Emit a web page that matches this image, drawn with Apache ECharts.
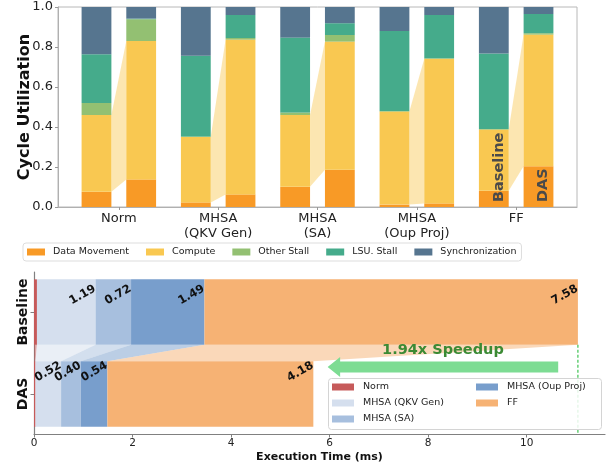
<!DOCTYPE html>
<html><head><meta charset="utf-8">
<script src="https://cdn.jsdelivr.net/npm/echarts@6/dist/echarts.min.js"></script>
<style>html,body{margin:0;padding:0;background:#fff}#c{width:616px;height:468px}</style>
</head><body><div id="c"></div>
<script>
// ---------- data ----------
const categories = ['Norm', 'MHSA\n(QKV Gen)', 'MHSA\n(SA)', 'MHSA\n(Oup Proj)', 'FF'];
const components = ['Data Movement', 'Compute', 'Other Stall', 'LSU. Stall', 'Synchronization'];
const yTicks = [0, 0.2, 0.4, 0.6, 0.8, 1.0];

const baselineDataMovement = [0.076, 0.023, 0.101, 0.012, 0.081];
const baselineCompute      = [0.384, 0.327, 0.359, 0.465, 0.306];
const baselineOtherStall   = [0.060, 0.003, 0.013, 0.003, 0.003];
const baselineLsuStall     = [0.244, 0.403, 0.374, 0.400, 0.377];
const baselineSync         = [0.236, 0.244, 0.153, 0.120, 0.233];

const dasDataMovement = [0.138, 0.063, 0.186, 0.018, 0.204];
const dasCompute      = [0.692, 0.774, 0.641, 0.723, 0.658];
const dasOtherStall   = [0.109, 0.008, 0.033, 0.003, 0.007];
const dasLsuStall     = [0.003, 0.115, 0.059, 0.216, 0.096];
const dasSync         = [0.058, 0.040, 0.081, 0.040, 0.035];

const stages = ['Norm', 'MHSA (QKV Gen)', 'MHSA (SA)', 'MHSA (Oup Proj)', 'FF'];
const rows = ['DAS', 'Baseline'];
const baselineTime = [0.06, 1.19, 0.72, 1.49, 7.58];
const dasTime      = [0.03, 0.52, 0.40, 0.54, 4.18];
const timeTicks = [0, 2, 4, 6, 8, 10];
const speedupText = '1.94x Speedup';

// ---------- style ----------
const FONT = 'DejaVu Sans';
const compColors = ['#f89a26', '#f9c851', '#93c072', '#45ab8b', '#56758f'];
const stageColors = ['#c65a5a', '#d5dfee', '#a7bfde', '#789ecc', '#f6b274'];
const OFF = 0.225, HALF = 0.15;

const baseParts = [baselineDataMovement, baselineCompute, baselineOtherStall, baselineLsuStall, baselineSync];
const dasParts = [dasDataMovement, dasCompute, dasOtherStall, dasLsuStall, dasSync];

function hexA(hex, a) {
  const n = parseInt(hex.slice(1), 16);
  return 'rgba(' + (n >> 16 & 255) + ',' + (n >> 8 & 255) + ',' + (n & 255) + ',' + a + ')';
}

// stacked top bars
const topSeries = components.map((name, k) => {
  const data = [];
  categories.forEach((c, i) => {
    [[baseParts, -OFF], [dasParts, OFF]].forEach(([parts, off]) => {
      let b = 0;
      for (let j = 0; j < k; j++) b += parts[j][i];
      data.push([i + off, b, b + parts[k][i]]);
    });
  });
  return {
    type: 'custom', name, xAxisIndex: 0, yAxisIndex: 0, z: 3,
    itemStyle: { color: compColors[k] },
    encode: { x: 0, y: [1, 2] },
    data,
    renderItem: (params, api) => {
      const x = api.value(0);
      const p0 = api.coord([x - HALF, api.value(2)]);
      const p1 = api.coord([x + HALF, api.value(1)]);
      return { type: 'rect', shape: { x: p0[0], y: p0[1], width: p1[0] - p0[0], height: p1[1] - p0[1] },
        style: { fill: compColors[k] } };
    }
  };
});

// compute links between baseline and DAS bars
const linkTop = {
  type: 'custom', xAxisIndex: 0, yAxisIndex: 0, z: 2, silent: true,
  encode: { x: 0, y: [1, 2] },
  data: categories.map((c, i) => [i, baselineDataMovement[i], baselineDataMovement[i] + baselineCompute[i],
    dasDataMovement[i], dasDataMovement[i] + dasCompute[i]]),
  renderItem: (params, api) => {
    const i = api.value(0);
    const pts = [
      api.coord([i - OFF + HALF, api.value(1)]), api.coord([i - OFF + HALF, api.value(2)]),
      api.coord([i + OFF - HALF, api.value(4)]), api.coord([i + OFF - HALF, api.value(3)])
    ];
    return { type: 'polygon', shape: { points: pts }, style: { fill: hexA(compColors[1], 0.45) } };
  }
};

const tagTexts = ['Baseline', 'DAS'];
const topTags = {
  type: 'custom', xAxisIndex: 0, yAxisIndex: 0, z: 5, silent: true,
  encode: { x: 0, y: 1 },
  data: [[4 - OFF, 0, 0], [4 + OFF, 0, 1]],
  renderItem: (params, api) => {
    const p = api.coord([api.value(0), api.value(1)]);
    return { type: 'text', x: p[0] + 5, y: p[1] - 5, rotation: Math.PI / 2,
      style: { text: tagTexts[api.value(2)], fontFamily: FONT, fontSize: 14.5, fontWeight: 'bold', fill: '#4a4a4a',
        align: 'left', verticalAlign: 'middle' } };
  }
};

// bottom bars
function cum(arr) { const out = []; let s = 0; arr.forEach(v => { out.push([s, s + v]); s += v; }); return out; }
const bCum = cum(baselineTime), dCum = cum(dasTime);
const baseTotal = bCum[bCum.length - 1][1], dasTotal = dCum[dCum.length - 1][1];

const bottomSeries = stages.map((name, k) => ({
  type: 'custom', name, xAxisIndex: 1, yAxisIndex: 1, z: 3,
  itemStyle: { color: stageColors[k] },
  encode: { x: [0, 1], y: 2 },
  data: [[bCum[k][0], bCum[k][1], 1], [dCum[k][0], dCum[k][1], 0]],
  renderItem: (params, api) => {
    const y = api.value(2);
    const p0 = api.coord([api.value(0), y + 0.4]);
    const p1 = api.coord([api.value(1), y - 0.4]);
    return { type: 'rect', shape: { x: p0[0], y: p0[1], width: p1[0] - p0[0], height: p1[1] - p0[1] },
      style: { fill: stageColors[k] } };
  }
}));

const linkBottom = {
  type: 'custom', xAxisIndex: 1, yAxisIndex: 1, z: 2, silent: true,
  encode: { x: [0, 1] },
  data: stages.map((s, k) => [bCum[k][0], bCum[k][1], dCum[k][0], dCum[k][1], k]),
  renderItem: (params, api) => {
    const k = api.value(4);
    const pts = [api.coord([api.value(0), 0.6]), api.coord([api.value(1), 0.6]),
      api.coord([api.value(3), 0.4]), api.coord([api.value(2), 0.4])];
    return { type: 'polygon', shape: { points: pts }, style: { fill: hexA(stageColors[k], 0.5) } };
  }
};

const valueLabelData = [];
for (let k = 1; k < stages.length; k++) {
  valueLabelData.push([bCum[k][1], 1, k]);
  valueLabelData.push([dCum[k][1], 0, k]);
}
const valueLabels = {
  type: 'custom', xAxisIndex: 1, yAxisIndex: 1, z: 6, silent: true,
  encode: { x: 0, y: 1 },
  data: valueLabelData,
  renderItem: (params, api) => {
    const row = api.value(1), k = api.value(2);
    const txt = (row ? baselineTime[k] : dasTime[k]).toFixed(2);
    const p = api.coord([api.value(0), row + (row ? 0.21 : 0.27)]);
    return { type: 'text', x: p[0] - 13, y: p[1], rotation: Math.PI / 6,
      style: { text: txt, fontFamily: FONT, fontSize: 11.5, fontWeight: 'bold', fill: '#111',
        align: 'center', verticalAlign: 'middle' } };
  }
};

const annotation = {
  type: 'custom', xAxisIndex: 1, yAxisIndex: 1, z: 7, silent: true,
  encode: { x: [0, 1] },
  data: [[dasTotal + 0.29, baseTotal - 0.4, 0.33]],
  renderItem: (params, api) => {
    const tip = api.coord([api.value(0), api.value(2)]);
    const tail = api.coord([api.value(1), api.value(2)]);
    const cy = tip[1], tx = tip[0], hx = tip[0] + 12.5;
    const top = api.coord([baseTotal, 0.6]);
    const bot = api.coord([baseTotal, -0.49]);
    const mid = api.coord([(api.value(0) + api.value(1)) / 2, 0.535]);
    return { type: 'group', children: [
      { type: 'line', shape: { x1: top[0], y1: top[1], x2: bot[0], y2: bot[1] },
        style: { stroke: '#3fc252', lineWidth: 1.2, lineDash: [3, 2] } },
      { type: 'polygon', shape: { points: [[tx, cy], [hx, cy - 10], [hx, cy - 5.5], [tail[0], cy - 5.5],
        [tail[0], cy + 5.5], [hx, cy + 5.5], [hx, cy + 10]] }, style: { fill: '#7ddc93' } },
      { type: 'text', x: mid[0], y: mid[1], style: { text: speedupText, fontFamily: FONT, fontSize: 14.5,
        fontWeight: 'bold', fill: '#3b8a34', align: 'center', verticalAlign: 'middle' } }
    ] };
  }
};

const chart = echarts.init(document.getElementById('c'));
chart.setOption({
  animation: false,
  textStyle: { fontFamily: FONT },
  grid: [
    { left: 58, top: 7, width: 519, height: 200, show: true, borderColor: '#b8b8b8', borderWidth: 1 },
    { left: 34, top: 272, width: 571, height: 162 }
  ],
  xAxis: [
    { gridIndex: 0, type: 'value', min: -0.6125, max: 4.6125, splitLine: { show: false },
      axisLine: { show: true, onZero: false, lineStyle: { color: '#b0b0b0' } },
      axisTick: { show: true, customValues: [0, 1, 2, 3, 4], length: 3, lineStyle: { color: '#999' } },
      axisLabel: { customValues: [0, 1, 2, 3, 4], formatter: v => categories[Math.round(v)],
        fontSize: 13, color: '#222', lineHeight: 15, margin: 4 } },
    { gridIndex: 1, type: 'value', min: 0, max: 11.59, splitLine: { show: false },
      axisLine: { show: true, onZero: false, lineStyle: { color: '#808080', width: 1.2 } },
      axisTick: { show: true, customValues: timeTicks, length: 3.5, lineStyle: { color: '#808080' } },
      axisLabel: { customValues: timeTicks, formatter: v => String(v), fontSize: 10.5, color: '#222', margin: 4 },
      name: 'Execution Time (ms)', nameLocation: 'middle', nameGap: 18,
      nameTextStyle: { fontWeight: 'bold', fontSize: 11, color: '#111' } }
  ],
  yAxis: [
    { gridIndex: 0, type: 'value', min: 0, max: 1, interval: 0.2, splitLine: { show: false },
      axisLine: { show: true, onZero: false, lineStyle: { color: '#b0b0b0' } },
      axisTick: { show: true, length: 3, lineStyle: { color: '#999' } },
      axisLabel: { formatter: v => v.toFixed(1), fontSize: 13, color: '#222', margin: 5 },
      name: 'Cycle Utilization', nameLocation: 'middle', nameGap: 25, nameMoveOverlap: false,
      nameTextStyle: { fontWeight: 'bold', fontSize: 16, color: '#111' } },
    { gridIndex: 1, type: 'value', min: -0.49, max: 1.49, splitLine: { show: false },
      axisLine: { show: true, onZero: false, lineStyle: { color: '#808080', width: 1.2 } },
      axisTick: { show: true, customValues: [0, 1], length: 3.5, lineStyle: { color: '#808080' } },
      axisLabel: { customValues: [0, 1], formatter: v => rows[Math.round(v)], rotate: 90,
        fontSize: 14, fontWeight: 'bold', color: '#111', margin: 4 } }
  ],
  legend: [
    { data: components, left: 23, top: 243, orient: 'horizontal', selectedMode: false,
      padding: [4, 5, 4, 4], borderColor: '#dddddd', borderWidth: 1, borderRadius: 3,
      itemWidth: 18, itemHeight: 7, itemGap: 17, icon: 'rect',
      textStyle: { fontSize: 9.5, color: '#222', padding: [0, 0, 0, 3] } },
    { data: stages.slice(0, 3), left: 332, top: 381, orient: 'vertical', selectedMode: false, z: 20,
      padding: 0, itemWidth: 22, itemHeight: 7, itemGap: 4, icon: 'rect',
      textStyle: { fontSize: 9.5, color: '#222', lineHeight: 12, padding: [0, 0, 0, 4] } },
    { data: stages.slice(3), left: 476, top: 381, orient: 'vertical', selectedMode: false, z: 20,
      padding: 0, itemWidth: 22, itemHeight: 7, itemGap: 4, icon: 'rect',
      textStyle: { fontSize: 9.5, color: '#222', lineHeight: 12, padding: [0, 0, 0, 4] } }
  ],
  graphic: [
    { type: 'rect', left: 328, top: 378, z: 15, shape: { width: 273, height: 51, r: 3 },
      style: { fill: 'rgba(255,255,255,0.85)', stroke: '#d4d4d4', lineWidth: 1 } }
  ],
  series: [linkTop, ...topSeries, topTags, linkBottom, ...bottomSeries, valueLabels, annotation]
});
</script></body></html>
